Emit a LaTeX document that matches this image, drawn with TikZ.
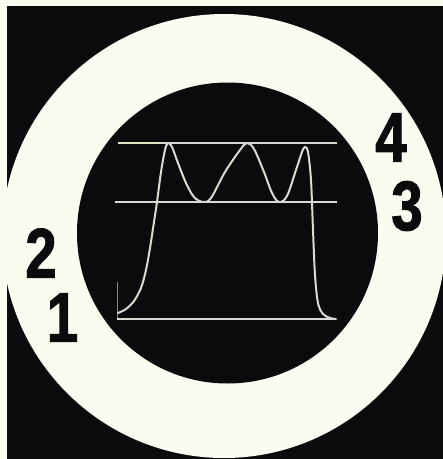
\documentclass[tikz,border=0pt]{standalone}
\usepackage{fontspec}
\usepackage{xcolor}
\newfontfamily\digitfont[FakeStretch=0.8, FakeBold=1.6]{Liberation Sans}
\definecolor{paper}{HTML}{FBFBF0}
\definecolor{ink}{HTML}{0B0B0D}
\definecolor{beam}{HTML}{DADAD2}
\definecolor{glow}{HTML}{E2E2C0}
\tikzset{
  digit/.style={inner sep=0pt, text=ink, font=\digitfont\bfseries\fontsize{70}{70}\selectfont},
  trace/.style={draw=beam, line width=2pt, line cap=round, line join=round},
  level/.style={draw=beam, line width=1.3pt}
}
\begin{document}
\begin{tikzpicture}[x=1pt, y=-1pt]
\useasboundingbox (0,0) rectangle (443,459);
\fill[paper] (0,0) rectangle (443,459);
\fill[ink] (7,6) rectangle (443,459);
\fill[paper] (224,236) circle[radius=222pt];
\fill[ink] (227.5,233) circle[radius=150.5pt];

% levels of the screen
\coordinate (top-l) at (118,143);
\coordinate (top-m) at (160,143);
\coordinate (top-r) at (337,143);
\coordinate (mid-l) at (115,202);
\coordinate (mid-r) at (337,202);
\coordinate (low-l) at (117,319);
\coordinate (low-r) at (336,319);
\coordinate (tick) at (117,282);
\draw[level] (top-l) -- (top-r);
\draw[level, draw=glow, line width=2.4pt] (top-l) -- (top-m);
\draw[level] (mid-l) -- (mid-r);
\draw[level] (low-l) -- (low-r);
\draw[level, line width=0.8pt, opacity=0.6] (tick) -- (low-l);

% the pulse
\draw[trace] plot[smooth, tension=0.55] coordinates {
  (118,313) (126,309) (134,301) (141,288) (146,270) (150,248) (154,222)
  (157,202) (161,172) (165,150) (168,143) (172,147) (178,163) (186,183)
  (194,197) (203,202) (211,198) (225,172) (240,150) (247,143) (254,149)
  (264,172) (272,193) (279,202) (287,196) (296,170) (302,152) (305,147)
  (308,152) (311,180) (313,230) (315,275) (318,303) (323,314) (330,318)
  (336,319)};

\node[digit] (n4) at (391,137.5) {4};
\node[digit] (n3) at (407,206) {3};
\node[digit] (n2) at (41,253) {2};
\node[digit] (n1) at (62.5,317.5) {1};
\end{tikzpicture}
\end{document}
